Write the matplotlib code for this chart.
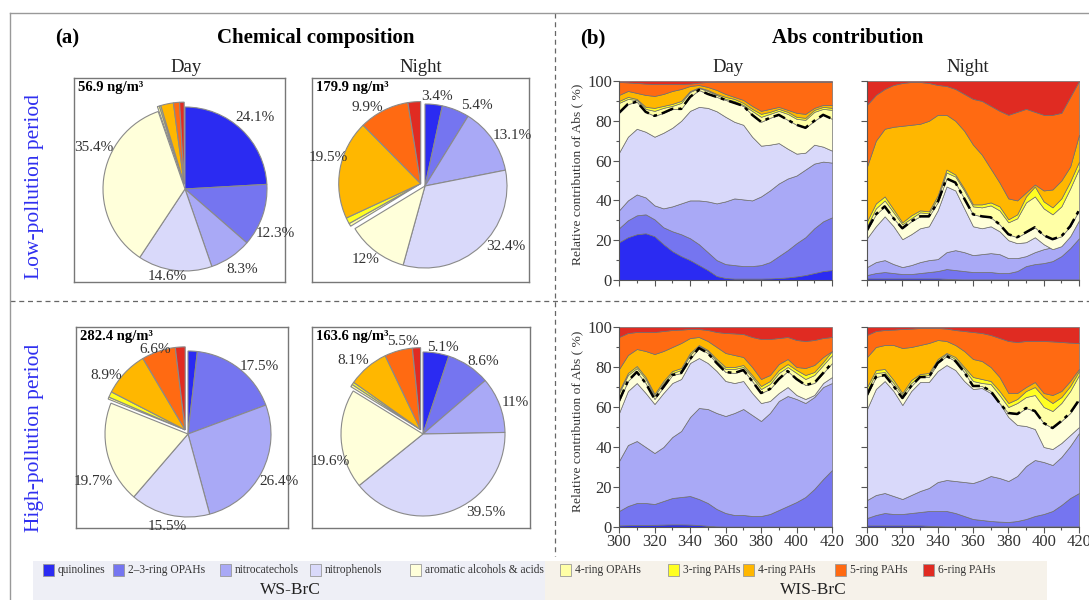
import numpy as np
import matplotlib.pyplot as plt
from matplotlib.patches import Rectangle
from matplotlib.lines import Line2D

plt.rcParams['font.family'] = ['Liberation Serif', 'DejaVu Serif']

# Componentes (orden de apilado)
categories = ['quinolines', '2–3-ring OPAHs', 'nitrocatechols', 'nitrophenols',
              'aromatic alcohols & acids', '4-ring OPAHs', '3-ring PAHs',
              '4-ring PAHs', '5-ring PAHs', '6-ring PAHs']
colors = ['#2b2bf2', '#7575f0', '#a9a9f6', '#d9d9fa', '#ffffda',
          '#ffffa6', '#ffff22', '#ffb700', '#ff6a12', '#e02b22']

# Composición química (%)
pie_low_day = [24.1, 12.3, 8.3, 14.6, 35.4, 0.4, 0.3, 2.5, 1.2, 0.9]
pie_low_night = [3.4, 5.4, 13.1, 32.4, 12, 0.6, 1.2, 19.5, 9.9, 2.5]
pie_high_day = [1.8, 17.5, 26.4, 15.5, 19.7, 0.4, 1.1, 8.9, 6.6, 1.9]
pie_high_night = [5.1, 8.6, 11, 39.5, 19.6, 0.5, 0.5, 8.1, 5.5, 1.6]
totals = ['56.9', '179.9', '282.4', '163.6']

# posición de las etiquetas (en radios, respecto al centro)
lab_low_day = [(0.85, 0.87), (1.10, -0.54), (0.70, -0.98), (-0.22, -1.07), (-1.11, 0.50),
               None, None, None, None, None]
lab_low_night = [(0.15, 1.09), (0.63, 0.98), (1.07, 0.62), (0.99, -0.74), (-0.73, -0.90),
                 None, None, (-1.18, 0.35), (-0.70, 0.96), None]
lab_high_day = [None, (0.86, 0.81), (1.10, -0.57), (-0.25, -1.11), (-1.14, -0.57),
                None, None, (-0.98, 0.71), (-0.40, 1.02), None]
lab_high_night = [(0.24, 1.05), (0.73, 0.88), (1.13, 0.39), (0.76, -0.96), (-1.13, -0.34),
                  None, None, (-0.85, 0.90), (-0.24, 1.13), None]

# Contribución a Abs: límites superiores acumulados (%) de las 9 primeras capas
wl = np.arange(300, 425, 5)

low_day = [
    [19, 21.5, 23, 23.5, 22, 18, 14.5, 12, 10, 7.5, 5, 2, 1, 0.7, 0.7, 0.7, 0.7, 0.8, 1, 1.3, 1.8, 2.5, 3.5, 4.5, 5],
    [26, 30, 32.5, 33, 30.5, 26.5, 24.5, 23, 21, 18, 14, 10, 8, 7.5, 7, 7, 7.5, 9, 12, 15, 18.5, 21.5, 26, 29.5, 31.5],
    [35, 40, 43, 41.5, 37.5, 36, 37, 38.5, 40, 40, 39.5, 38.5, 39.5, 41, 40.5, 40, 42, 45, 48.5, 51, 52.5, 55.5, 58.5, 59.5, 59],
    [64, 72, 76, 74.5, 72, 74, 76.5, 80, 85, 87, 86.5, 84.8, 82, 79.5, 78, 72, 67.5, 68, 68.8, 66, 63.5, 64, 68, 67, 65],
    [84, 88.4, 89.6, 84.5, 82.5, 84, 86, 86, 92, 95.5, 93.5, 92, 90.5, 89, 87.5, 83, 79.5, 81.5, 83, 80.5, 78, 76.5, 80, 83, 81],
    [89, 91, 90.5, 86, 85, 86.5, 87.5, 89, 94.5, 96.5, 95, 93, 91, 90, 88, 85, 82, 83.5, 85, 83.5, 81, 80.5, 84.5, 86, 85.5],
    [90, 92, 91, 87, 86.5, 87.5, 88.5, 90, 95, 96.8, 95.5, 93.5, 92, 91, 89, 86, 83.5, 84.5, 86, 84.5, 82, 81.5, 85.5, 87, 86.5],
    [93, 95, 94, 93, 92.5, 93.5, 95, 96, 97.5, 98, 97, 95.5, 93.5, 92, 90.5, 87.5, 85, 86, 87, 85.5, 84, 83.5, 86.5, 88, 88],
    [99.5, 99.3, 99, 98.7, 98.5, 98.5, 98.5, 98.5, 98.7, 99.2, 99.5, 99.6, 99.6, 99.6, 99.6, 99.6, 99.6, 99.6, 99.6, 99.6, 99.6, 99.6, 99.6, 99.6, 99.6],
]
low_night = [
    [0.8, 0.8, 0.8, 0.8, 0.8, 0.8, 0.8, 0.8, 0.8, 0.6, 0.4, 0.3, 0.3, 0.3, 0.3, 0.3, 0.3, 0.3, 0.3, 0.3, 0.3, 0.3, 0.3, 0.3, 0.3],
    [2.5, 3.5, 4, 3.5, 3, 3, 3.5, 4, 4.5, 5.5, 5, 4.5, 4, 4, 4, 3.5, 3.5, 4.5, 7, 8, 8.5, 9.5, 12, 16, 21],
    [6.5, 9, 10, 8, 6.5, 7.5, 9, 10, 10.5, 14, 15, 14, 12.5, 13, 13.5, 13, 11, 11, 12, 14, 15.5, 16.5, 18.5, 23, 30],
    [21, 27, 32, 27, 20.5, 23, 26, 27, 35, 47, 45, 36, 27, 26, 27, 24.5, 20, 18.5, 19, 21.5, 18, 15.5, 17, 22, 30],
    [25, 33, 37, 31, 26, 29.5, 32, 32, 39, 51, 49, 41, 33, 32, 31.5, 28, 23, 21.5, 24, 26.5, 22.5, 20.5, 22, 27, 35],
    [27, 36, 40, 34, 28, 31, 34, 33.5, 41, 54, 52, 45, 37, 36.5, 37.5, 35, 29, 31, 39, 42, 36, 33, 37, 46, 56],
    [29.5, 38.5, 42, 35.5, 29, 32.5, 35, 34.5, 42.5, 55.5, 53, 46, 38, 38, 39, 37, 30.5, 33, 42, 47, 39.5, 36.5, 41, 49.5, 59.5],
    [57, 70, 76, 77, 77.5, 78, 78.5, 80, 83, 83, 80, 75, 68, 63, 56, 49, 41, 40, 44, 48, 45, 45.5, 50, 57, 73],
    [88, 93, 96, 98, 99, 99.5, 99.5, 99, 98, 97.5, 96, 93.5, 91, 90, 87.5, 85, 83, 84.5, 86, 84.5, 83, 83, 84, 92, 100],
]
high_day = [
    [0.8, 0.9, 1, 1, 1.1, 1.2, 1.3, 1.3, 1.2, 1, 0.6, 0.3, 0.2, 0.2, 0.2, 0.2, 0.2, 0.2, 0.2, 0.2, 0.2, 0.2, 0.2, 0.2, 0.2],
    [8, 10.5, 12, 12, 11.5, 13, 14.5, 15, 15.5, 14, 12, 9, 7, 6, 6, 5.5, 5.5, 6.5, 8.5, 10.5, 12.5, 15, 19, 24, 28.5],
    [33, 41, 43, 40, 37, 40, 45, 48, 55, 59.5, 59, 57, 55.5, 57, 59, 56, 53, 57, 63, 65.5, 64, 62, 65, 70, 72],
    [57, 68, 72, 67, 61.5, 67, 72, 74, 82, 84.5, 82, 78, 73, 72, 73, 67, 62, 63, 67, 70, 66, 64, 66, 72, 75],
    [63, 73, 77.5, 72, 64, 70, 76, 77, 84, 89.5, 87, 82, 77.5, 77, 78.5, 73, 67, 69, 74, 78, 74, 71, 72, 77, 82],
    [67, 76, 79.5, 74, 65.5, 72, 77, 78.5, 86, 90.5, 88, 83, 79, 79, 80, 75, 69, 71.5, 77, 80, 77, 74, 76, 81, 86],
    [68, 77, 80.5, 75, 66.5, 73, 78, 79.5, 87, 91, 88.5, 84, 80, 80, 81, 76, 70.5, 73, 78.5, 81.5, 78.5, 76, 77.5, 82.5, 88],
    [79, 86, 89, 88, 86.5, 88, 90, 92, 94.5, 95, 93, 90, 87, 86, 85, 80, 74, 76, 81.5, 84, 80, 79.5, 81, 85, 88],
    [95, 97, 97.5, 97.5, 97.5, 98, 98.5, 98.7, 99, 99, 98.5, 97.5, 97, 96.8, 96.5, 95, 94, 94, 94.5, 95, 93.5, 93, 93.5, 94.5, 95],
]
high_night = [
    [0.8, 0.8, 0.8, 0.8, 0.8, 0.8, 0.8, 0.6, 0.4, 0.3, 0.3, 0.3, 0.3, 0.3, 0.3, 0.3, 0.3, 0.3, 0.3, 0.3, 0.3, 0.3, 0.3, 0.3, 0.3],
    [4.5, 6, 7, 6.5, 6.5, 7, 7.5, 8, 8, 8, 7, 5.5, 4, 3.5, 3, 2.7, 2.5, 3, 4, 5.5, 6.5, 8, 11, 14.5, 17],
    [13.5, 16, 17, 15.5, 14, 16, 18, 19.5, 22.5, 23.5, 23, 22.5, 22, 23.5, 25.5, 24.5, 23, 25.5, 30.5, 33.5, 32.5, 31, 35, 40.5, 47],
    [59, 69, 73, 68, 61, 68, 72.5, 72.5, 78, 81, 78.5, 73, 69, 69.5, 67, 62, 55, 51, 50.5, 49, 40, 39, 42, 46, 50],
    [66, 75, 76, 70.5, 64.5, 70.5, 75, 75, 82, 85.5, 83, 77.5, 70.5, 70.5, 68, 62, 57, 56.5, 59.5, 58, 52, 49.5, 53, 57, 63.5],
    [68, 77, 77.5, 72, 66, 72, 75.5, 76, 83, 86.5, 84, 79, 73, 72, 71.5, 66, 60, 62, 65, 66, 60, 58, 62, 68, 76],
    [70, 78.5, 79, 73.5, 67, 73.5, 76.5, 77, 84, 87, 85, 80, 75, 74, 73, 68, 62, 64, 68, 70, 65, 62, 65, 70.5, 78],
    [85, 90, 91, 91, 89.5, 90, 91, 92, 93.5, 93, 91, 88, 84, 83, 80, 75, 67, 67, 70, 72.5, 67, 66, 68, 73, 79],
    [96, 98, 98.5, 98.7, 99, 99.2, 99.5, 99.5, 99.5, 99.2, 98.5, 98, 97.5, 97, 96, 94.5, 93, 92.5, 93, 93, 93, 92.8, 92.5, 92.2, 92],
]

W, H = 1089, 600
fig = plt.figure(figsize=(W / 100, H / 100), dpi=100)


def px_rect(x0, y0, x1, y1):
    # caja en pixeles (y desde arriba) -> coordenadas de figura
    return [x0 / W, 1 - y1 / H, (x1 - x0) / W, (y1 - y0) / H]


def draw_pie(box, center, r, values, total, label_pos, explode=0.06):
    x0, y0, x1, y1 = box
    ax = fig.add_axes(px_rect(*box))
    frac = np.array(values) / np.sum(values)
    # el grupo WIS (últimas 5 porciones) se separa en bloque
    mid = np.deg2rad(90 - 360 * (frac[:5].sum() + frac[5:].sum() / 2))
    offset = (explode * np.cos(mid), explode * np.sin(mid))
    for group, c in [(range(0, 5), (0, 0)), (range(5, 10), offset)]:
        wedges, _ = ax.pie(values, colors=colors, startangle=90, counterclock=False,
                           center=c, frame=True,
                           wedgeprops=dict(edgecolor='#8a8a8a', linewidth=0.8))
        for i, w in enumerate(wedges):
            if i not in group:
                w.set_visible(False)
    for v, pos in zip(values, label_pos):
        if pos is not None:
            ax.text(pos[0], pos[1], f'{v:g}%', ha='center', va='center',
                    fontsize=11, color='#333333')
    cx, cy = center
    ax.set_aspect('auto')
    ax.set_xlim(-(cx - x0) / r, (x1 - cx) / r)
    ax.set_ylim(-(y1 - cy) / r, (cy - y0) / r)
    ax.set_xticks([])
    ax.set_yticks([])
    for s in ax.spines.values():
        s.set_color('#777777')
        s.set_linewidth(1.0)
    ax.text(0.02, 0.985, f'{total} ng/m³', transform=ax.transAxes, ha='left', va='top',
            fontsize=10.5, fontweight='bold')
    return ax


def draw_area(box, bounds, show_x, show_y):
    ax = fig.add_axes(px_rect(*box))
    b = np.array(bounds, dtype=float)
    cum = np.vstack([np.zeros(len(wl)), b, np.full(len(wl), 100.0)])
    layers = np.diff(cum, axis=0)
    ax.stackplot(wl, layers, colors=colors, edgecolor='#6e6e6e', linewidth=0.5)
    ax.plot(wl, b[4], color='black', lw=1.8, dashes=[5, 2, 1.5, 2])
    ax.set_xlim(300, 420)
    ax.set_ylim(0, 100)
    ax.set_xticks(np.arange(300, 421, 20))
    ax.set_xticks(np.arange(300, 421, 10), minor=True)
    ax.set_yticks(np.arange(0, 101, 20))
    ax.set_yticks(np.arange(0, 101, 10), minor=True)
    ax.tick_params(which='major', direction='out', length=4, width=0.8, labelsize=12,
                   color='#555555', labelcolor='#333333', pad=1)
    ax.tick_params(which='minor', direction='out', length=2, width=0.8, color='#555555')
    if not show_x:
        ax.tick_params(axis='x', labelbottom=False)
    if not show_y:
        ax.tick_params(axis='y', labelleft=False)
    else:
        ax.set_ylabel('Relative contribution of Abs ( %)', fontsize=9.7, color='#333333')
        ax.yaxis.set_label_coords(-0.17, 0.53)
    for side in ['top', 'right']:
        ax.spines[side].set_visible(False)
    for side in ['left', 'bottom']:
        ax.spines[side].set_color('#555555')
        ax.spines[side].set_linewidth(0.8)
    return ax


# (a) Composición química
draw_pie((74, 78, 285, 282), (185, 189), 82, pie_low_day, totals[0], lab_low_day)
draw_pie((312, 78, 529, 282), (425, 186), 82, pie_low_night, totals[1], lab_low_night)
draw_pie((76, 327, 288, 528), (188, 434), 83, pie_high_day, totals[2], lab_high_day)
draw_pie((312, 327, 530, 528), (423, 434), 82, pie_high_night, totals[3], lab_high_night)

# (b) Contribución a Abs
draw_area((619, 81, 832, 280), low_day, False, True)
draw_area((867, 81, 1079, 280), low_night, False, False)
draw_area((619, 327, 832, 527), high_day, True, True)
draw_area((867, 327, 1079, 527), high_night, True, False)


def ftext(x, y, s, **kw):
    fig.text(x / W, 1 - y / H, s, **kw)


ftext(55, 38, '(a)', fontsize=15, fontweight='bold', va='center')
ftext(316, 38, 'Chemical composition', fontsize=15, fontweight='bold', ha='center', va='center')
ftext(580, 38, '(b)', fontsize=15, fontweight='bold', va='center')
ftext(848, 38, 'Abs contribution', fontsize=15, fontweight='bold', ha='center', va='center')
for x, s in [(186, 'Day'), (421, 'Night'), (728, 'Day'), (968, 'Night')]:
    ftext(x, 67, s, fontsize=13.5, ha='center', va='center', color='#222222')
ftext(35, 186, 'Low-pollution period', fontsize=15.5, rotation=90, ha='center', va='center', color='#2f2ff0')
ftext(35, 438, 'High-pollution period', fontsize=15.5, rotation=90, ha='center', va='center', color='#2f2ff0')

# líneas divisorias y marco
fig.add_artist(Line2D([555 / W, 555 / W], [1 - 13 / H, 1 - 556 / H], color='#666666', lw=0.9, ls=(0, (4, 3))))
fig.add_artist(Line2D([10 / W, 1], [1 - 301 / H, 1 - 301 / H], color='#666666', lw=0.9, ls=(0, (4, 3))))
fig.add_artist(Line2D([10 / W, 10 / W], [1 - 13 / H, 0], color='#999999', lw=1.0))
fig.add_artist(Line2D([10 / W, 1], [1 - 13 / H, 1 - 13 / H], color='#999999', lw=1.0))

# leyenda
fig.add_artist(Rectangle((33 / W, 0), (545 - 33) / W, (600 - 561) / H, transform=fig.transFigure,
                         facecolor='#eeeff6', edgecolor='none', zorder=0))
fig.add_artist(Rectangle((545 / W, 0), (1047 - 545) / W, (600 - 561) / H, transform=fig.transFigure,
                         facecolor='#f6f2ea', edgecolor='none', zorder=0))
patch_x = [43, 113, 220, 310, 410, 560, 668, 743, 835, 923]
for px, name, c in zip(patch_x, categories, colors):
    fig.add_artist(Rectangle((px / W, 1 - 576 / H), 11 / W, 12 / H, transform=fig.transFigure,
                             facecolor=c, edgecolor='#999999', lw=0.6))
    ftext(px + 15, 570, name, fontsize=8.3, va='center', color='#333333')
ftext(290, 590, 'WS-BrC', fontsize=12.5, ha='center', va='center', color='#222222')
ftext(813, 590, 'WIS-BrC', fontsize=12.5, ha='center', va='center', color='#222222')

fig.savefig('out.png', dpi=100)
